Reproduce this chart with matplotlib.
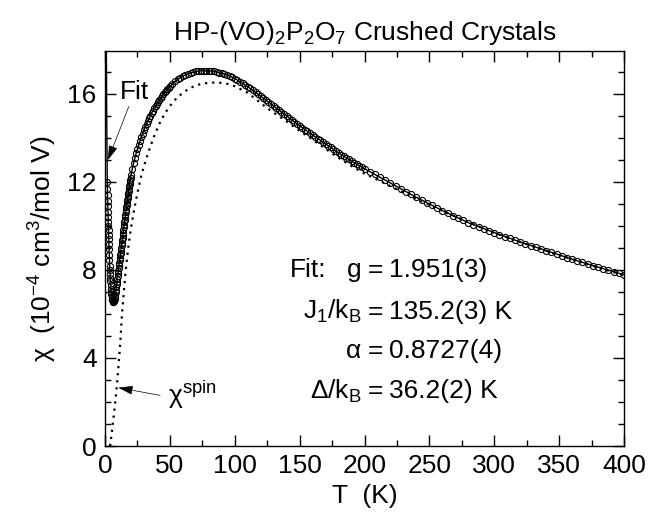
import matplotlib
matplotlib.use("Agg")
import matplotlib.pyplot as plt
from matplotlib.ticker import MultipleLocator

plt.rcParams["font.family"] = ["Liberation Sans", "DejaVu Sans"]
plt.rcParams["mathtext.fontset"] = "custom"
plt.rcParams["mathtext.rm"] = "Liberation Sans"
plt.rcParams["mathtext.it"] = "Liberation Sans:italic"
plt.rcParams["mathtext.default"] = "regular"

T_data = [
    1.8, 1.9, 2.0, 2.1, 2.2, 2.3, 2.4, 2.5, 2.6, 2.7, 2.8, 2.9, 3.0, 3.15, 3.3,
    3.45, 3.6, 3.75, 3.9, 4.05, 4.2, 4.4, 4.6, 4.8, 5.0, 5.25, 5.5, 5.75, 6.0,
    6.25, 6.5, 6.75,
    7.0, 7.25, 7.5, 7.75, 8.0, 8.25, 8.5, 8.75, 9.0, 9.25, 9.5, 9.75, 10.0,
    10.25, 10.5, 10.75, 11.0, 11.25, 11.5, 11.75, 12.0, 12.25, 12.5, 12.75,
    13.0, 13.25, 13.5, 13.75, 14.0, 14.25, 14.5, 14.75, 15.0, 15.25, 15.5,
    15.75, 16.0, 16.25, 16.5, 16.75, 17.0, 17.25, 17.5, 17.75, 18.0, 18.25,
    18.5, 18.75, 19.0, 19.25, 19.5, 19.75, 20.0,
    21, 22, 23, 24, 25, 26, 27, 28, 29, 30, 31, 32, 33, 34, 35, 36, 37, 38, 39,
    40, 41, 42, 43, 44, 45, 46, 47, 48, 49, 50,
    52, 54, 56, 58, 60, 62, 64, 66, 68, 70, 72, 74, 76, 78, 80, 82, 84, 86, 88,
    90, 92, 94, 96, 98, 100, 102, 104, 106, 108, 110, 112, 114, 116, 118, 120,
    122, 124, 126, 128, 130, 132, 134, 136, 138, 140, 142, 144, 146, 148, 150,
    152, 154, 156, 158, 160, 162, 164, 166, 168, 170, 172, 174, 176, 178, 180,
    182, 184, 186, 188, 190, 192, 194, 196, 198, 200,
    204, 208, 212, 216, 220, 224, 228, 232, 236, 240, 244, 248, 252, 256, 260,
    264, 268, 272, 276, 280, 284, 288, 292, 296, 300, 304, 308, 312, 316, 320,
    324, 328, 332, 336, 340, 344, 348, 352, 356, 360, 364, 368, 372, 376, 380,
    384, 388, 392, 396, 400,
]
chi_data = [
    12.0, 11.7, 11.4, 11.15, 10.9, 10.65, 10.4, 10.2, 10.0, 9.8, 9.6, 9.4, 9.2,
    8.95, 8.7, 8.45, 8.2, 8.0, 7.8, 7.65, 7.5, 7.3, 7.15, 7.0, 6.9, 6.8, 6.7,
    6.63, 6.58, 6.55, 6.55, 6.57,
    6.6, 6.65, 6.7, 6.78, 6.88, 6.98, 7.1, 7.22, 7.35, 7.47, 7.6, 7.72, 7.85,
    7.97, 8.1, 8.21, 8.33, 8.45, 8.56, 8.67, 8.78, 8.89, 9.0, 9.12, 9.23, 9.35,
    9.46, 9.58, 9.7, 9.81, 9.93, 10.04, 10.16, 10.28, 10.4, 10.51, 10.62,
    10.73, 10.84, 10.95, 11.06, 11.17, 11.28, 11.38, 11.49, 11.6, 11.7, 11.8,
    11.9, 12.0, 12.1, 12.2, 12.3,
    12.6, 12.85, 13.08, 13.3, 13.5, 13.69, 13.87, 14.04, 14.2, 14.35, 14.49,
    14.63, 14.76, 14.89, 15.01, 15.13, 15.24, 15.35, 15.45, 15.55, 15.65,
    15.74, 15.83, 15.91, 15.99, 16.07, 16.14, 16.21, 16.28, 16.34,
    16.46, 16.57, 16.66, 16.74, 16.81, 16.87, 16.92, 16.96, 16.99, 17.02,
    17.04, 17.05, 17.06, 17.06, 17.05, 17.04, 17.02, 17.0, 16.97, 16.94, 16.9,
    16.86, 16.81, 16.76, 16.7, 16.63, 16.56, 16.49, 16.41, 16.33, 16.25,
    16.17, 16.08, 15.99, 15.9, 15.81, 15.72, 15.63, 15.54, 15.45, 15.36,
    15.27, 15.18, 15.09, 15.0, 14.91, 14.82, 14.73, 14.64, 14.55, 14.47,
    14.38, 14.3, 14.21, 14.13, 14.05, 13.97, 13.89, 13.81, 13.73, 13.65,
    13.57, 13.48, 13.4, 13.32, 13.24, 13.17, 13.1, 13.02, 12.95, 12.88, 12.81,
    12.74, 12.67, 12.6,
    12.47, 12.34, 12.21, 12.08, 11.95, 11.82, 11.69, 11.56, 11.43, 11.3,
    11.18, 11.06, 10.94, 10.82, 10.7, 10.58, 10.46, 10.35, 10.25, 10.15,
    10.05, 9.96, 9.87, 9.78, 9.7, 9.61, 9.52, 9.43, 9.35, 9.27, 9.19, 9.11,
    9.03, 8.95, 8.88, 8.8, 8.72, 8.64, 8.56, 8.49, 8.42, 8.35, 8.27, 8.2,
    8.13, 8.06, 7.99, 7.92, 7.85, 7.78,
]

# fit curve (solid)
T_fit = [1.0, 1.1, 1.2, 1.35, 1.5, 1.65, 1.8, 2.0, 2.2, 2.5, 2.8, 3.2, 3.6,
         4.0, 4.5, 5.0, 5.5, 6.0, 6.5, 7.0, 7.5, 8.0, 9.0, 10, 11, 12, 13, 14,
         15, 16, 17, 18, 19, 20, 22, 24, 26, 28, 30, 33, 36, 40, 45, 50, 55,
         60, 65, 70, 75, 80, 85, 90, 95, 100, 110, 120, 130, 140, 150, 160,
         170, 180, 190, 200, 220, 240, 260, 280, 300, 320, 340, 360, 380, 400]
chi_fit = [19.0, 17.6, 16.4, 14.9, 13.8, 12.85, 12.0, 11.4, 10.9, 10.2, 9.6,
           8.85, 8.2, 7.7, 7.25, 6.9, 6.7, 6.58, 6.55, 6.6, 6.7, 6.88, 7.35,
           7.85, 8.33, 8.78, 9.23, 9.7, 10.16, 10.62, 11.06, 11.49, 11.9, 12.3,
           12.85, 13.3, 13.69, 14.04, 14.35, 14.76, 15.13, 15.55, 15.99, 16.34,
           16.62, 16.81, 16.94, 17.02, 17.055, 17.05, 17.01, 16.94, 16.84, 16.7,
           16.33, 15.9, 15.45, 15.0, 14.55, 14.13, 13.73, 13.32, 12.95, 12.6,
           11.95, 11.3, 10.7, 10.15, 9.7, 9.27, 8.88, 8.49, 8.13, 7.78]

# spin part chi_spin (dotted)
T_spin = [3.9, 4.5, 5.0, 6.0, 7.0, 8.0, 9.0, 10.0, 11.0, 12.0, 13.0, 14.0,
          15.0, 16.0, 17.0, 18.0, 20.0, 22.0, 25.0, 28.0, 31.0, 34.0, 38.0,
          42.0, 46.0, 50.0, 55.0, 60.0, 65.0, 70.0, 75.0, 80.0, 85.0, 90.0,
          95.0, 100.0, 110.0, 125.0, 140.0, 150.0, 160.0, 176.0, 190.0, 200.0,
          214.0, 225.0, 250.0, 275.0, 300.0, 325.0, 350.0, 375.0, 400.0]
chi_spin = [0.0, 0.25, 0.5, 1.0, 1.5, 2.05, 2.65, 3.35, 4.1, 4.9, 5.9, 6.65,
            7.35, 8.0, 8.55, 9.05, 9.9, 10.6, 11.5, 12.3, 12.9, 13.45, 14.1,
            14.65, 15.1, 15.45, 15.8, 16.05, 16.25, 16.38, 16.47, 16.5, 16.52,
            16.5, 16.45, 16.35, 16.05, 15.35, 14.75, 14.32, 13.92, 13.25,
            12.72, 12.38, 11.98, 11.66, 10.95, 10.3, 9.68, 9.17, 8.68, 8.2,
            7.76]

FS = 19

fig = plt.figure(figsize=(6.64, 5.21), dpi=100)
ax = fig.add_axes([105 / 664, 75 / 521, 519 / 664, 395 / 521])

ax.plot(T_fit, chi_fit, color="black", lw=1.0, zorder=2)
ax.plot(T_spin, chi_spin, color="black", lw=1.6, linestyle=(0, (1, 2.2)), zorder=2)
ax.plot(T_data, chi_data, linestyle="none", marker="o", ms=4.4,
        mfc="none", mec="black", mew=0.8, zorder=3)

ax.set_xlim(0, 400)
ax.set_ylim(0, 17.95)
ax.xaxis.set_major_locator(MultipleLocator(50))
ax.xaxis.set_minor_locator(MultipleLocator(25))
ax.yaxis.set_major_locator(MultipleLocator(4))
ax.yaxis.set_minor_locator(MultipleLocator(1))
ax.tick_params(which="both", direction="in", top=True, right=True,
               labelsize=FS, width=1.0)
ax.tick_params(which="major", length=8, pad=6)
ax.tick_params(which="minor", length=4.5)
for s in ax.spines.values():
    s.set_linewidth(1.0)

ax.set_xlabel("T  (K)", fontsize=FS, labelpad=4)
ax.set_ylabel("χ  (10$^{-4}$ cm$^{3}$/mol V)", fontsize=FS, labelpad=6)
ax.set_title("HP-(VO)$_{2}$P$_{2}$O$_{7}$ Crushed Crystals", fontsize=FS, pad=8)

# fit parameters, lined up on the "=" signs
x_eq = 208.5
rows = [
    (8.0, "g", "1.951(3)"),
    (6.1, "J$_{1}$/k$_{B}$", "135.2(3) K"),
    (4.3, "α", "0.8727(4)"),
    (2.5, "Δ/k$_{B}$", "36.2(2) K"),
]
for y, lab, val in rows:
    ax.text(x_eq, y, "=", fontsize=FS, ha="center", va="center")
    ax.text(x_eq - 11, y, lab, fontsize=FS, ha="right", va="center")
    ax.text(x_eq + 10, y, val, fontsize=FS, ha="left", va="center")
ax.text(142.5, 8.0, "Fit:", fontsize=FS, ha="left", va="center")

arrow = dict(arrowstyle="-|>,head_length=0.9,head_width=0.28",
             color="black", lw=0.5, shrinkA=0, shrinkB=0, mutation_scale=10)
ax.annotate("Fit", xy=(2.3, 13.0), xytext=(11.5, 16.1), fontsize=FS,
            ha="left", va="center", arrowprops=arrow)
ax.annotate("", xy=(10.3, 2.65), xytext=(42.5, 2.3), arrowprops=arrow)
ax.text(48.5, 2.3, "χ$^{spin}$", fontsize=FS, ha="left", va="center")

fig.savefig("out.png", dpi=100)
